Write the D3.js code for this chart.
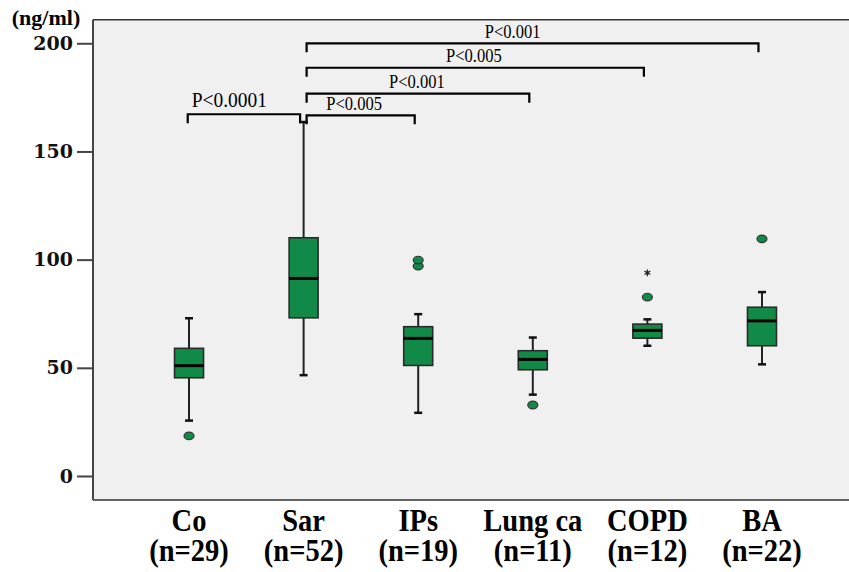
<!DOCTYPE html>
<html>
<head>
<meta charset="utf-8">
<script src="https://cdn.jsdelivr.net/npm/d3@7"></script>
<style>
  body { margin: 0; background: #fff; }
  svg { display: block; }
</style>
</head>
<body>
<div id="chart"></div>
<script>
// groups and values (ng/ml)
const groups = ["Co", "Sar", "IPs", "Lung ca", "COPD", "BA"];
const counts = [29, 52, 19, 11, 12, 22];
const whiskerLow = [25.6, 46.6, 29.2, 37.6, 60.2, 51.6];
const q1 = [45.4, 73.1, 51.1, 49.1, 63.7, 60.2];
const median = [51.0, 91.3, 63.6, 53.9, 67.3, 71.7];
const q3 = [59.0, 110.1, 69.0, 57.9, 70.2, 78.0];
const whiskerHigh = [72.9, 163.6, 74.8, 64.0, 72.4, 85.0];
const outliers = [[18.5], [], [97.0, 99.8], [32.8], [82.7], [109.6]];
const extremes = [[], [], [], [], [93.9], []];
const yTicks = [0, 50, 100, 150, 200];

// significance brackets: pair of groups, level, label
const brFrom = ["Co", "Sar", "Sar", "Sar", "Sar"];
const brTo = ["Sar", "IPs", "Lung ca", "COPD", "BA"];
const brLevel = [167.2, 166.7, 176.7, 188.7, 200.0];
const brLabel = ["P<0.0001", "P<0.005", "P<0.001", "P<0.005", "P<0.001"];
// where along the bracket the label sits (layout only)
const brLabelAt = [0.37, 0.44, 0.495, 0.496, 0.456];

const W = 849, H = 572;
const plot = {left: 93, top: 19.7, bottom: 500, right: 849};

const svg = d3.select("#chart").append("svg")
    .attr("width", W).attr("height", H);

const x = d3.scalePoint()
    .domain(groups)
    .range([plot.left, 858])
    .padding(0.838);

const y = d3.scaleLinear()
    .domain([-11.1, 210.9])
    .range([plot.bottom, plot.top]);

svg.append("rect")
    .attr("x", plot.left).attr("y", plot.top)
    .attr("width", plot.right - plot.left)
    .attr("height", plot.bottom - plot.top)
    .attr("fill", "#f0f0f0");

// frame
svg.append("line")
    .attr("x1", plot.left).attr("x2", plot.right)
    .attr("y1", plot.top).attr("y2", plot.top)
    .attr("stroke", "#333").attr("stroke-width", 1.6);
svg.append("line")
    .attr("x1", plot.left).attr("x2", plot.right)
    .attr("y1", plot.bottom).attr("y2", plot.bottom)
    .attr("stroke", "#333").attr("stroke-width", 1.6);

// y axis
const yAxis = svg.append("g")
    .attr("transform", "translate(" + plot.left + ",0)")
    .call(d3.axisLeft(y).tickValues(yTicks).tickSize(16).tickPadding(4));
yAxis.select(".domain")
    .attr("d", "M0," + plot.top + "V" + plot.bottom)
    .attr("stroke", "#444").attr("stroke-width", 2);
yAxis.selectAll(".tick line").attr("stroke", "#444").attr("stroke-width", 2);
yAxis.selectAll(".tick text")
    .attr("fill", "#111")
    .style("font-family", "'DejaVu Serif', serif")
    .style("font-weight", "bold")
    .style("font-size", "19px");

svg.append("text")
    .attr("x", 46).attr("y", 24.5)
    .attr("text-anchor", "middle")
    .style("font-family", "'Liberation Serif', 'Times New Roman', serif")
    .style("font-weight", "bold")
    .style("font-size", "22px")
    .text("(ng/ml)");

// x labels (condensed bold serif)
const xl = svg.append("g");
groups.forEach(function(g, i) {
  const t = xl.append("text")
      .attr("transform", "translate(" + x(g) + ",0) scale(0.92,1)")
      .attr("text-anchor", "middle")
      .style("font-family", "'Liberation Serif', 'Times New Roman', serif")
      .style("font-weight", "bold")
      .style("font-size", "31px");
  t.append("tspan").attr("x", 0).attr("y", 531).text(g);
  t.append("tspan").attr("x", 0).attr("y", 561).text("(n=" + counts[i] + ")");
});

// boxes
const boxW = 29, capW = 8;
const fill = "#118a47";
groups.forEach(function(g, i) {
  const cx = x(g);
  const b = svg.append("g");
  b.append("line")
      .attr("x1", cx).attr("x2", cx)
      .attr("y1", y(whiskerLow[i])).attr("y2", y(whiskerHigh[i]))
      .attr("stroke", "#222").attr("stroke-width", 2);
  [whiskerLow[i], whiskerHigh[i]].forEach(function(v) {
    b.append("line")
        .attr("x1", cx - capW / 2).attr("x2", cx + capW / 2)
        .attr("y1", y(v)).attr("y2", y(v))
        .attr("stroke", "#111").attr("stroke-width", 2.5);
  });
  b.append("rect")
      .attr("x", cx - boxW / 2).attr("width", boxW)
      .attr("y", y(q3[i])).attr("height", y(q1[i]) - y(q3[i]))
      .attr("fill", fill)
      .attr("stroke", "#2a2a2a").attr("stroke-width", 1.6);
  b.append("line")
      .attr("x1", cx - boxW / 2).attr("x2", cx + boxW / 2)
      .attr("y1", y(median[i])).attr("y2", y(median[i]))
      .attr("stroke", "#000").attr("stroke-width", 3);
  outliers[i].forEach(function(v) {
    b.append("ellipse")
        .attr("cx", cx).attr("cy", y(v))
        .attr("rx", 5).attr("ry", 3.8)
        .attr("fill", fill)
        .attr("stroke", "#333").attr("stroke-width", 1.2);
  });
  extremes[i].forEach(function(v) {
    b.append("path")
        .attr("transform", "translate(" + cx + "," + y(v) + ")")
        .attr("d", d3.symbol(d3.symbolAsterisk, 30)())
        .attr("fill", "none")
        .attr("stroke", "#222").attr("stroke-width", 1.3);
  });
});

// brackets
const drop = 9;
brFrom.forEach(function(a, i) {
  const x1 = x(a) + (a === "Co" ? -1.3 : 3);
  const x2 = x(brTo[i]) - 3.5;
  const yy = y(brLevel[i]);
  svg.append("path")
      .attr("d", "M" + x1 + "," + (yy + drop) + "V" + yy + "H" + x2 + "V" + (yy + drop))
      .attr("fill", "none")
      .attr("stroke", "#000").attr("stroke-width", 2.2);
  const big = brLabel[i] === "P<0.0001";
  const lx = x1 + (x2 - x1) * brLabelAt[i];
  svg.append("text")
      .attr("transform", "translate(" + lx + "," + (yy - (big ? 7 : 5.5)) + ") scale(" + (big ? 0.95 : 0.92) + ",1)")
      .attr("text-anchor", "middle")
      .style("font-family", "'Liberation Serif', 'Times New Roman', serif")
      .style("font-size", big ? "20.5px" : "18px")
      .text(brLabel[i]);
});
</script>
</body>
</html>
